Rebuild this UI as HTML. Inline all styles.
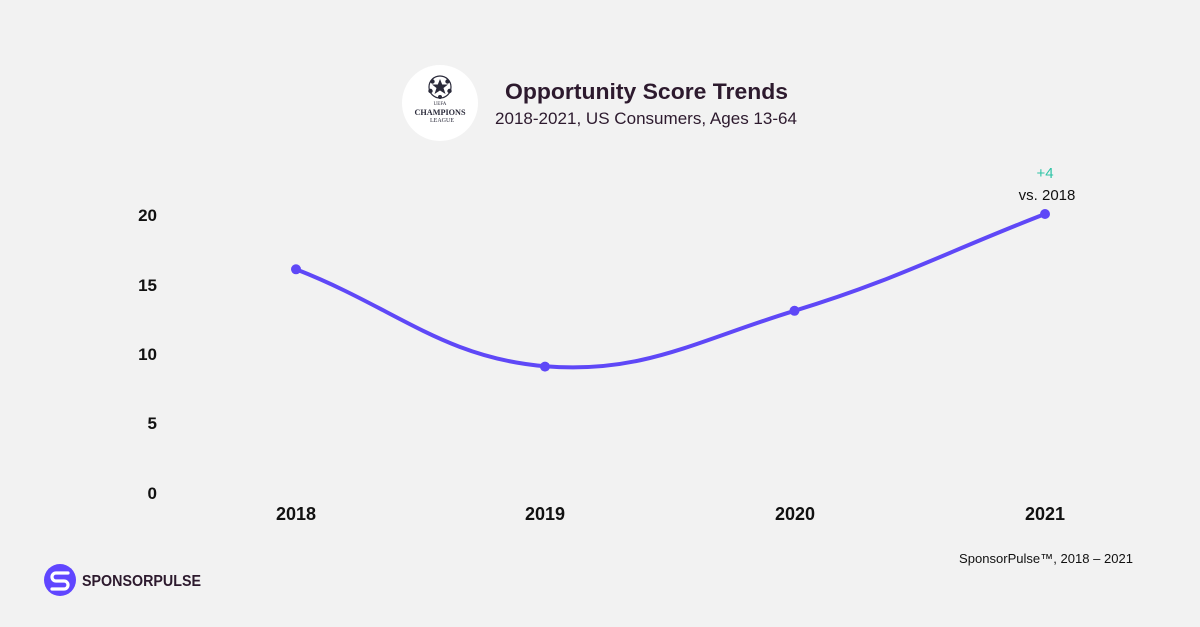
<!DOCTYPE html>
<html><head><meta charset="utf-8"><style>
html,body{margin:0;padding:0;background:#f2f2f2;}
svg{display:block;}
</style></head><body>
<svg width="1200" height="627" viewBox="0 0 1200 627" xmlns="http://www.w3.org/2000/svg">
<rect width="1200" height="627" fill="#f2f2f2"/>
<!-- logo circle -->
<circle cx="440" cy="103" r="38" fill="#ffffff"/>
<g fill="#2a2a3a">
<circle cx="440" cy="87" r="11" fill="none" stroke="#2a2a3a" stroke-width="1.2"/>
<polygon points="440,79 442.2,84.5 448,84.5 443.5,88 445.5,94 440,90.5 434.5,94 436.5,88 432,84.5 437.8,84.5"/>
<circle cx="432.5" cy="81.5" r="2.2"/><circle cx="447.5" cy="81.5" r="2.2"/><circle cx="430.5" cy="91" r="2.2"/><circle cx="449.5" cy="91" r="2.2"/><circle cx="440" cy="97" r="2"/>
</g>
<text x="440" y="105" font-family="Liberation Serif, serif" font-size="5" fill="#2a2a3a" text-anchor="middle">UEFA</text>
<text x="440" y="115" font-family="Liberation Serif, serif" font-size="8" font-weight="bold" fill="#2a2a3a" text-anchor="middle" textLength="51" lengthAdjust="spacingAndGlyphs">CHAMPIONS</text>
<text x="442" y="122" font-family="Liberation Serif, serif" font-size="6" fill="#2a2a3a" text-anchor="middle">LEAGUE</text>
<!-- titles -->
<text x="505" y="99" font-family="Liberation Sans, sans-serif" font-size="22" font-weight="bold" fill="#2d1a2e" textLength="283" lengthAdjust="spacingAndGlyphs">Opportunity Score Trends</text>
<text x="495" y="124" font-family="Liberation Sans, sans-serif" font-size="17" fill="#2d1a2e" textLength="302" lengthAdjust="spacingAndGlyphs">2018-2021, US Consumers, Ages 13-64</text>
<!-- y axis labels -->
<g font-family="Liberation Sans, sans-serif" font-size="17" font-weight="bold" fill="#111" text-anchor="end">
<text x="157" y="221">20</text>
<text x="157" y="291">15</text>
<text x="157" y="360">10</text>
<text x="157" y="429">5</text>
<text x="157" y="499">0</text>
</g>
<!-- x axis labels -->
<g font-family="Liberation Sans, sans-serif" font-size="18" font-weight="bold" fill="#111" text-anchor="middle">
<text x="296" y="520">2018</text>
<text x="545" y="520">2019</text>
<text x="795" y="520">2020</text>
<text x="1045" y="520">2021</text>
</g>
<!-- line -->
<path d="M296,269.3 C395.6,308.1 443.1,357.7 545,366.2 C642.5,374.3 697,340.5 794.5,310.8 C897,279.6 944.8,252.7 1045,214" fill="none" stroke="#5f48f7" stroke-width="4" stroke-linecap="round"/>
<g fill="#5f48f7">
<circle cx="296" cy="269.3" r="5"/>
<circle cx="545" cy="366.6" r="5"/>
<circle cx="794.5" cy="310.8" r="5"/>
<circle cx="1045" cy="214" r="5"/>
</g>
<!-- annotation -->
<text x="1045" y="178" font-family="Liberation Sans, sans-serif" font-size="15" fill="#2ec4a6" text-anchor="middle">+4</text>
<text x="1047" y="200" font-family="Liberation Sans, sans-serif" font-size="15" fill="#111" text-anchor="middle">vs. 2018</text>
<!-- footer -->
<text x="1133" y="563" font-family="Liberation Sans, sans-serif" font-size="13" fill="#111" text-anchor="end" textLength="174" lengthAdjust="spacingAndGlyphs">SponsorPulse™, 2018 – 2021</text>
<!-- sponsorpulse logo -->
<circle cx="60" cy="580" r="16" fill="#6046ff"/>
<path d="M68,573 L56,573 A4,4 0 0 0 56,581 L64,581 A4,4 0 0 1 64,589 L52,589" fill="none" stroke="#ffffff" stroke-width="3.2" stroke-linecap="round"/>
<text x="82" y="586" font-family="Liberation Sans, sans-serif" font-size="16" font-weight="bold" fill="#2d1a2e" textLength="119" lengthAdjust="spacingAndGlyphs">SPONSORPULSE</text>
</svg>
</body></html>
